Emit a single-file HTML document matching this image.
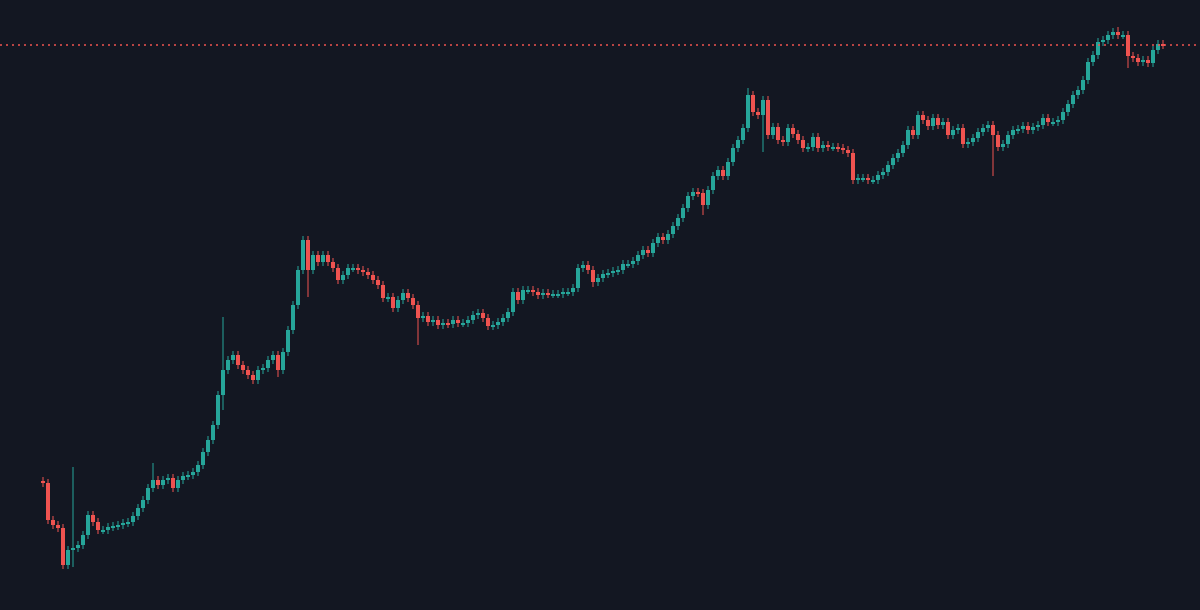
<!DOCTYPE html>
<html>
<head>
<meta charset="utf-8">
<style>
  html,body{margin:0;padding:0;background:#131722;}
  #chart{display:block;width:1200px;height:610px;}
</style>
</head>
<body>
<svg id="chart" width="1200" height="610" xmlns="http://www.w3.org/2000/svg">
  <rect x="0" y="0" width="1200" height="610" fill="#131722"/>
  <g id="candles"></g>
  <line id="price-line" x1="0" x2="1200" stroke="#ef5350" stroke-width="1.5" stroke-dasharray="2,4"/>
</svg>
<script>
const closes = [
117,80,75,72,35,50,52,55,65,85,
78,70,70,73,74,75,77,78,84,92,
100,112,120,115,120,122,112,120,124,125,
128,135,148,160,175,205,230,240,245,235,
230,225,220,230,232,240,245,230,248,270,
295,330,360,330,345,338,345,338,332,320,
325,332,332,330,328,325,320,315,302,303,
292,300,307,302,295,282,284,278,280,275,
277,276,280,277,277,280,285,287,282,274,
275,278,282,288,308,300,310,310,308,305,
307,306,306,306,308,308,312,332,335,330,
318,322,326,327,329,330,336,336,339,345,
350,347,357,363,360,366,374,382,392,404,
408,407,395,410,424,430,424,438,452,460,
472,505,488,485,500,465,473,460,458,472,
466,460,452,453,463,452,455,453,453,452,
450,447,420,422,422,420,420,425,428,435,
442,447,455,470,465,485,480,474,482,475,
478,465,470,472,456,458,462,468,472,475,
465,453,456,465,470,471,474,470,473,475,
482,478,478,480,488,496,505,510,520,538,
545,558,560,565,568,565,565,544,542,538,
540,537,550,556,555
];
const firstOpen = 119;
const spikeIndex = [4, 6, 22, 36, 47, 53, 75, 110, 132, 141, 144, 190, 215, 217];
const spikeHigh  = [null, 133, 137, 283, null, null, null, null, null, 512, null, null, 573, null];
const spikeLow   = [32, 33, null, 190, 223, 303, 255, 313, 385, null, 448, 424, null, 532];
const lastPriceLevel = 555;

const xStart = 41, xStep = 5, bodyW = 4;
function xScale(i){ return xStart + i * xStep; }
function yScale(p){ return 600 - p; }

const g = document.getElementById('candles');
const NS = 'http://www.w3.org/2000/svg';
for (let i = 0; i < closes.length; i++) {
  const o = i === 0 ? firstOpen : closes[i-1];
  const c = closes[i];
  let hi = Math.max(o, c) + 4, lo = Math.min(o, c) - 4;
  const k = spikeIndex.indexOf(i);
  if (k >= 0) {
    if (spikeHigh[k] !== null) hi = Math.max(hi, spikeHigh[k]);
    if (spikeLow[k] !== null) lo = Math.min(lo, spikeLow[k]);
  }
  const col = c >= o ? '#26a69a' : '#ef5350';
  const x = xScale(i);
  const wick = document.createElementNS(NS, 'line');
  
  
  wick.setAttribute('x1', x + bodyW / 2); wick.setAttribute('x2', x + bodyW / 2);
  wick.setAttribute('y1', yScale(hi)); wick.setAttribute('y2', yScale(lo));
  wick.setAttribute('stroke', col); wick.setAttribute('stroke-width', '1');
  g.appendChild(wick);
  const body = document.createElementNS(NS, 'rect');
  
  
  body.setAttribute('x', x); body.setAttribute('width', bodyW);
  body.setAttribute('y', yScale(Math.max(o, c)));
  body.setAttribute('height', Math.max(2, Math.abs(o - c)));
  body.setAttribute('fill', col);
  g.appendChild(body);
}
const pl = document.getElementById('price-line');
pl.setAttribute('y1', yScale(lastPriceLevel));
pl.setAttribute('y2', yScale(lastPriceLevel));
</script>
</body>
</html>
